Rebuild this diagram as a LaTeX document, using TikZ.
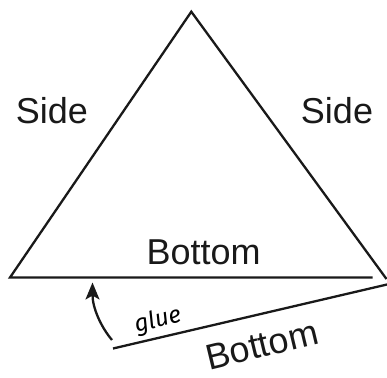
\documentclass[tikz,border=0pt]{standalone}
\usepackage{fontspec}
\setmainfont{Liberation Sans}
\newfontfamily\gluefont{Fira Sans}
\usetikzlibrary{arrows.meta}
\tikzset{
  edge/.style={line width=2.3pt, black!90},
  lbl/.style={font=\fontsize{36}{40}\selectfont, text=black!90, inner sep=0pt, anchor=base},
}
\begin{document}
\begin{tikzpicture}[x=1pt,y=-1pt]
\useasboundingbox (0,0) rectangle (387,377);
\coordinate (apex) at (191.3,11.7);
\coordinate (bl) at (10,277.5);
\coordinate (br) at (386.5,279);
\coordinate (be) at (372.5,277.5);
\coordinate (lr) at (387,284.5);
\coordinate (ll) at (113,348.5);
\coordinate (as) at (112,340);
\coordinate (at) at (92.5,282.5);
\draw[edge, line join=miter] (be) -- (bl) -- (apex) -- (br);
\draw[edge] (ll) -- (lr);
\draw[edge, -{Stealth[length=17pt,width=14pt,inset=4pt]}] (as) .. controls (101,327) and (92.5,308) .. (at);
\node[lbl] (sideL) at (52,123.5) {Side};
\node[lbl] (sideR) at (337,123.5) {Side};
\node[lbl] (botT) at (203.7,264.5) {Bottom};
\node[lbl, anchor=center, rotate=13.5] (botB) at (262,345) {Bottom};
\node[font=\gluefont\itshape\fontsize{24}{26}\selectfont, inner sep=0pt, rotate=14] (glue) at (158,321) {glue};
\end{tikzpicture}
\end{document}
